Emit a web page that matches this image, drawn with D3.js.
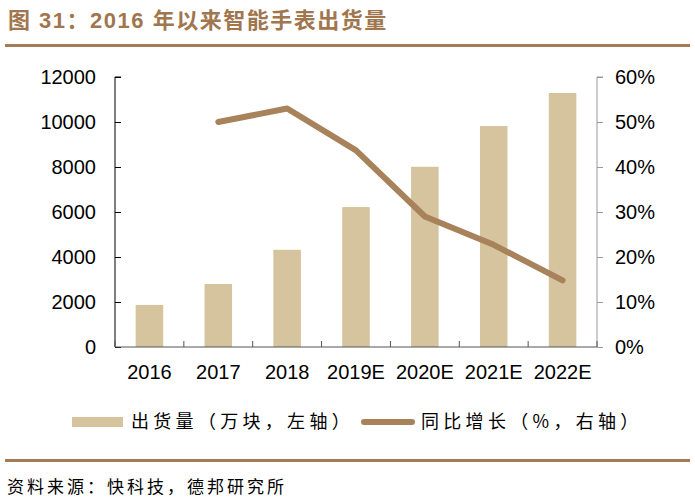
<!DOCTYPE html>
<html>
<head>
<meta charset="utf-8">
<script src="https://cdn.jsdelivr.net/npm/d3@7"></script>
<style>
  body { margin: 0; background: #fff; }
  svg { display: block; }
</style>
</head>
<body>
<svg width="695" height="504"></svg>
<script>
var categories = ["2016", "2017", "2018", "2019E", "2020E", "2021E", "2022E"];
var shipments = [1870, 2800, 4320, 6220, 8010, 9820, 11290];
var growth = [null, 50.0, 53.0, 43.7, 29.0, 22.7, 14.8];
var leftTicks = [0, 2000, 4000, 6000, 8000, 10000, 12000];
var rightTicks = [0, 10, 20, 30, 40, 50, 60];

var barColor = "#d5c49d",
    lineColor = "#a7825a",
    brown = "#a47b57";

var svg = d3.select("svg");
var cjk = "'Noto Sans CJK SC', sans-serif";
var latin = "'Liberation Sans', Arial, sans-serif";

// title
svg.append("text")
  .attr("x", 8)
  .attr("y", 28)
  .attr("fill", "#a0764e")
  .attr("font-family", latin + ", " + cjk)
  .attr("font-weight", "bold")
  .attr("font-size", 22)
  .attr("letter-spacing", 1.5)
  .text("图 31：2016 年以来智能手表出货量");

svg.append("rect")
  .attr("x", 5).attr("y", 44)
  .attr("width", 685).attr("height", 3)
  .attr("fill", brown);

var x = d3.scaleBand()
  .domain(categories)
  .range([115, 597])
  .paddingInner(0.6)
  .paddingOuter(0.3);

var yLeft = d3.scaleLinear().domain([0, 12000]).range([347, 77]);
var yRight = d3.scaleLinear().domain([0, 60]).range([347, 77]);

var chart = svg.append("g").attr("class", "chart");

// bars
chart.selectAll("rect.bar")
  .data(shipments)
  .enter()
  .append("rect")
  .attr("class", "bar")
  .attr("x", function(d, i) { return x(categories[i]); })
  .attr("y", function(d) { return yLeft(d); })
  .attr("width", x.bandwidth())
  .attr("height", function(d) { return yLeft(0) - yLeft(d); })
  .attr("fill", barColor);

// line
var line = d3.line()
  .defined(function(d) { return d != null; })
  .x(function(d, i) { return x(categories[i]) + x.bandwidth() / 2; })
  .y(function(d) { return yRight(d); });

chart.append("path")
  .datum(growth)
  .attr("d", line)
  .attr("fill", "none")
  .attr("stroke", lineColor)
  .attr("stroke-width", 6)
  .attr("stroke-linecap", "round")
  .attr("stroke-linejoin", "round");

// left axis
var leftAxis = svg.append("g")
  .attr("transform", "translate(115,0)")
  .call(d3.axisRight(yLeft).tickValues(leftTicks).tickSize(6).tickFormat(d3.format("d")));
leftAxis.select(".domain").attr("stroke", "#000").attr("d", "M6,77H0V347");
leftAxis.selectAll(".tick line").attr("stroke", "#000");
leftAxis.selectAll(".tick text")
  .attr("x", -19)
  .attr("text-anchor", "end")
  .attr("fill", "#000")
  .attr("font-family", latin)
  .attr("font-size", 20);

// right axis
var rightAxis = svg.append("g")
  .attr("transform", "translate(597,0)")
  .call(d3.axisRight(yRight).tickValues(rightTicks).tickSize(6).tickFormat(function(d) { return d + "%"; }));
rightAxis.select(".domain").attr("stroke", "#999").attr("d", "M6,77H0V347");
rightAxis.selectAll(".tick line").attr("stroke", "#999");
rightAxis.selectAll(".tick text")
  .attr("x", 18)
  .attr("fill", "#000")
  .attr("font-family", latin)
  .attr("font-size", 20);

// x axis
var bottomAxis = svg.append("g")
  .attr("transform", "translate(0,347)");
bottomAxis.append("line")
  .attr("x1", 115).attr("x2", 597)
  .attr("stroke", "#555");
var boundaries = categories.map(function(c) { return x(c) - x.step() * 0.3; }).concat([597]);
bottomAxis.selectAll("line.tk")
  .data(boundaries)
  .enter()
  .append("line")
  .attr("class", "tk")
  .attr("x1", function(d) { return d; })
  .attr("x2", function(d) { return d; })
  .attr("y1", 0).attr("y2", -6)
  .attr("stroke", "#555");
bottomAxis.selectAll("text")
  .data(categories)
  .enter()
  .append("text")
  .attr("x", function(d) { return x(d) + x.bandwidth() / 2; })
  .attr("y", 32)
  .attr("text-anchor", "middle")
  .attr("font-family", latin)
  .attr("font-size", 20)
  .attr("fill", "#000")
  .text(function(d) { return d; });

// legend
var legend = svg.append("g").attr("class", "legend");
legend.append("rect")
  .attr("x", 72).attr("y", 417)
  .attr("width", 51).attr("height", 10)
  .attr("fill", barColor);
legend.append("text")
  .attr("x", 131).attr("y", 428)
  .attr("font-family", cjk)
  .attr("font-size", 18)
  .attr("letter-spacing", 4.3)
  .attr("fill", "#000")
  .text("出货量（万块，左轴）");
legend.append("line")
  .attr("x1", 364).attr("x2", 412)
  .attr("y1", 422).attr("y2", 422)
  .attr("stroke", lineColor)
  .attr("stroke-width", 6)
  .attr("stroke-linecap", "round");
legend.append("text")
  .attr("x", 421).attr("y", 428)
  .attr("font-family", cjk)
  .attr("font-size", 18)
  .attr("letter-spacing", 4.3)
  .attr("fill", "#000")
  .text("同比增长（%，右轴）");

// source
svg.append("rect")
  .attr("x", 5).attr("y", 459)
  .attr("width", 685).attr("height", 3)
  .attr("fill", brown);
svg.append("text")
  .attr("x", 7).attr("y", 493)
  .attr("font-family", cjk)
  .attr("font-size", 17)
  .attr("letter-spacing", 3)
  .attr("fill", "#000")
  .text("资料来源：快科技，德邦研究所");
</script>
</body>
</html>
